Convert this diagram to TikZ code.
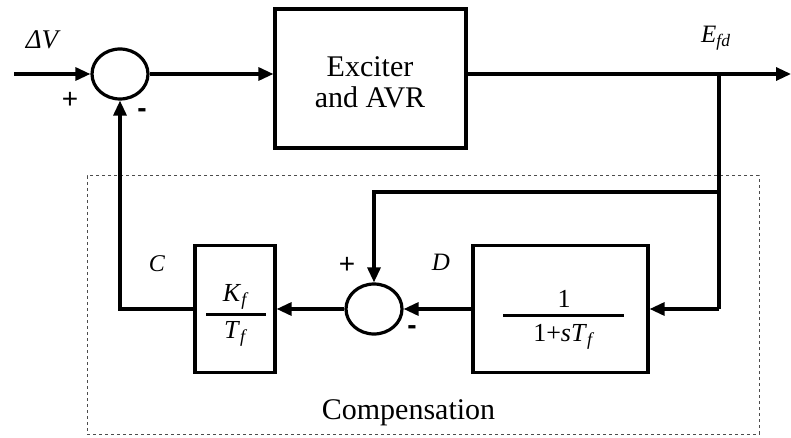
\documentclass[tikz,border=0pt]{standalone}
\usepackage{fontspec}
\setmainfont{Liberation Serif}
\newfontfamily\signfont{Liberation Sans}
\usetikzlibrary{arrows.meta,shapes.geometric}
\begin{document}
\begin{tikzpicture}[x=1pt,y=-1pt,
  wire/.style={line width=3.2pt},
  blk/.style={draw, line width=3.2pt, inner sep=0pt},
  sumj/.style={draw, ellipse, line width=3.2pt, minimum width=56pt, minimum height=50pt, inner sep=0pt},
  arr/.style={wire, -{Triangle[length=15pt,width=13pt]}},
  lbl/.style={inner sep=0pt, font=\fontsize{25}{28}\selectfont\itshape},
  bigtxt/.style={inner sep=0pt, align=center, font=\fontsize{30}{31}\selectfont},
  frac/.style={inner sep=0pt, font=\fontsize{26}{28}\selectfont},
  fbar/.style={line width=3pt},
  sgn/.style={inner sep=0pt, font=\signfont\fontsize{28}{28}\selectfont},
  msgn/.style={inner sep=0pt, font=\signfont\bfseries\fontsize{28}{28}\selectfont},
  comp/.style={draw, dashed, dash pattern=on 3pt off 3pt, line width=1pt, gray!60!black, inner sep=0pt}]
\useasboundingbox (0,0) rectangle (791,438);
% compensation frame
\node[comp, minimum width=672pt, minimum height=258pt] (cmp) at (423,305) {};
\node[bigtxt] (cmptxt) at (408.5,413) {Compensation};
% blocks
\node[blk, minimum width=191pt, minimum height=139pt] (exc) at (370.5,78.5) {};
\node[bigtxt] (exctxt) at (370,82) {Exciter\\and AVR};
\node[sumj] (s1) at (120,74) {};
\node[sumj] (s2) at (374,309) {};
\node[blk, minimum width=80pt, minimum height=127pt] (kb) at (235,309) {};
\node[blk, minimum width=175pt, minimum height=127pt] (gb) at (560.5,309) {};
% fractions
\node[frac] (kn) at (236,297) {\textit{K}\textsubscript{\textit{f}}};
\node[frac] (kd) at (236,334) {\textit{T}\textsubscript{\textit{f}}};
\coordinate (kbl) at (206,314);
\coordinate (kbr) at (266,314);
\draw[fbar] (kbl) -- (kbr);
\node[frac] (gn) at (564,299) {1};
\node[frac] (gd) at (564,337) {1+\textit{sT}\textsubscript{\textit{f}}};
\coordinate (gbl) at (503,315);
\coordinate (gbr) at (624,315);
\draw[fbar] (gbl) -- (gbr);
% coordinates
\coordinate (in) at (14,74);
\coordinate (out) at (791,74);
\coordinate (br) at (719,74);
\coordinate (b2) at (719,192);
\coordinate (b3) at (719,309);
% connectors
\draw[arr] (in) -- (s1.west);
\draw[arr] (s1.east) -- (exc.west |- s1.east);
\draw[arr] (exc.east |- br) -- (out);
\draw[wire] (br) -- (b3);
\draw[arr] (b3) -- (gb.east);
\draw[arr] (b2) -| (s2.north);
\draw[arr] (gb.west) -- (s2.east);
\draw[arr] (s2.west) -- (kb.east);
\draw[arr] (kb.west) -| (s1.south);
% labels
\node[lbl, font=\fontsize{27}{28}\selectfont\itshape] (dv) at (42,40) {ΔV};
\node[lbl, anchor=base west] (efd) at (701,43) {E\textsubscript{fd}};
\node[lbl, font=\fontsize{24}{26}\selectfont\itshape] (cl) at (157,264) {C};
\node[lbl] (dl) at (441,262) {D};
\node[sgn] (p1) at (70,100) {+};
\node[msgn] (m1) at (142,113) {-};
\node[sgn] (p2) at (347,265) {+};
\node[msgn] (m2) at (412,330) {-};
\end{tikzpicture}
\end{document}
